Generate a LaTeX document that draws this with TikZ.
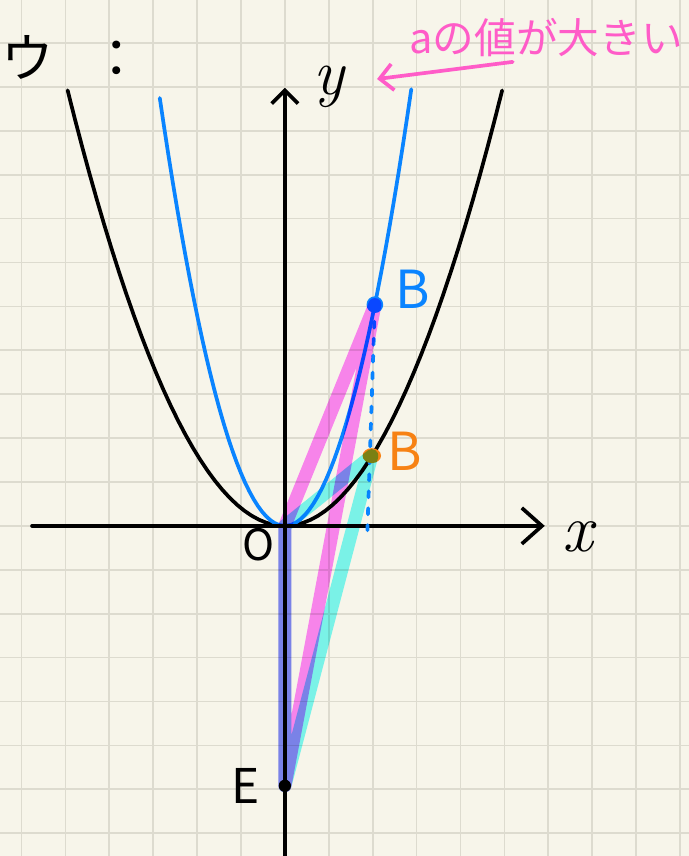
\documentclass[tikz,border=0pt]{standalone}
\usepackage{fontspec}
\newfontfamily\jpfont{Noto Sans CJK JP}
\usetikzlibrary{arrows.meta}
\definecolor{paper}{RGB}{247,245,234}
\definecolor{gridgray}{RGB}{221,219,207}
\definecolor{penblue}{RGB}{10,132,255}
\definecolor{penorange}{RGB}{247,130,20}
\definecolor{penpink}{RGB}{255,92,200}
\definecolor{bandpink}{RGB}{255,138,255}
\definecolor{bandcyan}{RGB}{126,252,252}
\begin{document}
\begin{tikzpicture}[
    pen/.style={line width=2.4pt, line cap=round, line join=round},
    band/.style={line width=8.5pt, line cap=round, line join=round},
    lab/.style={inner sep=0pt, font=\jpfont\fontsize{34}{34}\selectfont},
    bigtip/.style={-{Straight Barb[length=4.6mm, width=8.2mm, line width=2.4pt]}},
    smalltip/.style={-{Straight Barb[length=3mm, width=6mm, line width=2.4pt]}}
  ]
    \fill[paper] (-6.49,-7.52) rectangle (9.2,11.98);
    \useasboundingbox (-6.49,-7.52) rectangle (9.2,11.98);
    \draw[gridgray, line width=1.1pt] (-6.49,-7.52) grid (9.2,11.98);

    \coordinate (O) at (0,0);
    \coordinate (B1) at (2.05,5.04);
    \coordinate (B2) at (1.98,1.6);
    \coordinate (E) at (0,-5.92);
    \coordinate (F) at (1.88,-0.1);
    \coordinate (xl) at (-5.76,0);
    \coordinate (xr) at (5.92,0);
    \coordinate (yb) at (0,-7.6);
    \coordinate (yt) at (0,9.98);

    \draw[pen] plot[domain=-4.95:4.95, samples=60] (\x,{0.405*\x*\x});
    \draw[pen, penblue] plot[domain=-2.85:2.88, samples=60] (\x,{1.2*\x*\x});
    \draw[pen, bigtip] (xl) -- (xr);
    \draw[pen, smalltip] (yb) -- (yt);
    \draw[pen, penblue, dash pattern=on 4pt off 7pt] (B1) -- (F);
    \fill[penorange] (B2) ellipse (0.21 and 0.17);
    \fill[penblue] (B1) circle (0.19);
    \fill (E) circle (0.14);
    \begin{scope}[blend mode=multiply]
        \draw[band, bandpink] (O) -- (B1) -- (E) -- cycle;
        \draw[band, bandcyan] (O) -- (B2) -- (E) -- cycle;
    \end{scope}

    \node[lab, penblue] (labB1) at (2.92,5.38) {B};
    \node[lab, penorange] (labB2) at (2.73,1.69) {B};
    \node[lab, font=\jpfont\fontsize{28}{28}\selectfont] (labO) at (-0.59,-0.43) {O};
    \node[lab, font=\jpfont\fontsize{31}{31}\selectfont] (labE) at (-0.89,-5.92) {E};
    \node[lab, font=\itshape\fontsize{44}{44}\selectfont] (labx) at (6.67,-0.25) {x};
    \node[lab, font=\itshape\fontsize{42}{42}\selectfont] (laby) at (1.0,10.0) {y};
    \node[lab, anchor=west, font=\jpfont\fontsize{34}{34}\selectfont] (title)
        at (-6.47,10.66) {ウ\hspace{0.7em}：};

    \node[lab, anchor=east, penpink, font=\jpfont\fontsize{27}{27}\selectfont] (note)
        at (9.07,11.12) {aの値が大きい};
    \coordinate (na) at (5.19,10.57);
    \coordinate (nb) at (2.10,10.18);
    \draw[pen, penpink, smalltip] (na) -- (nb);
\end{tikzpicture}
\end{document}
